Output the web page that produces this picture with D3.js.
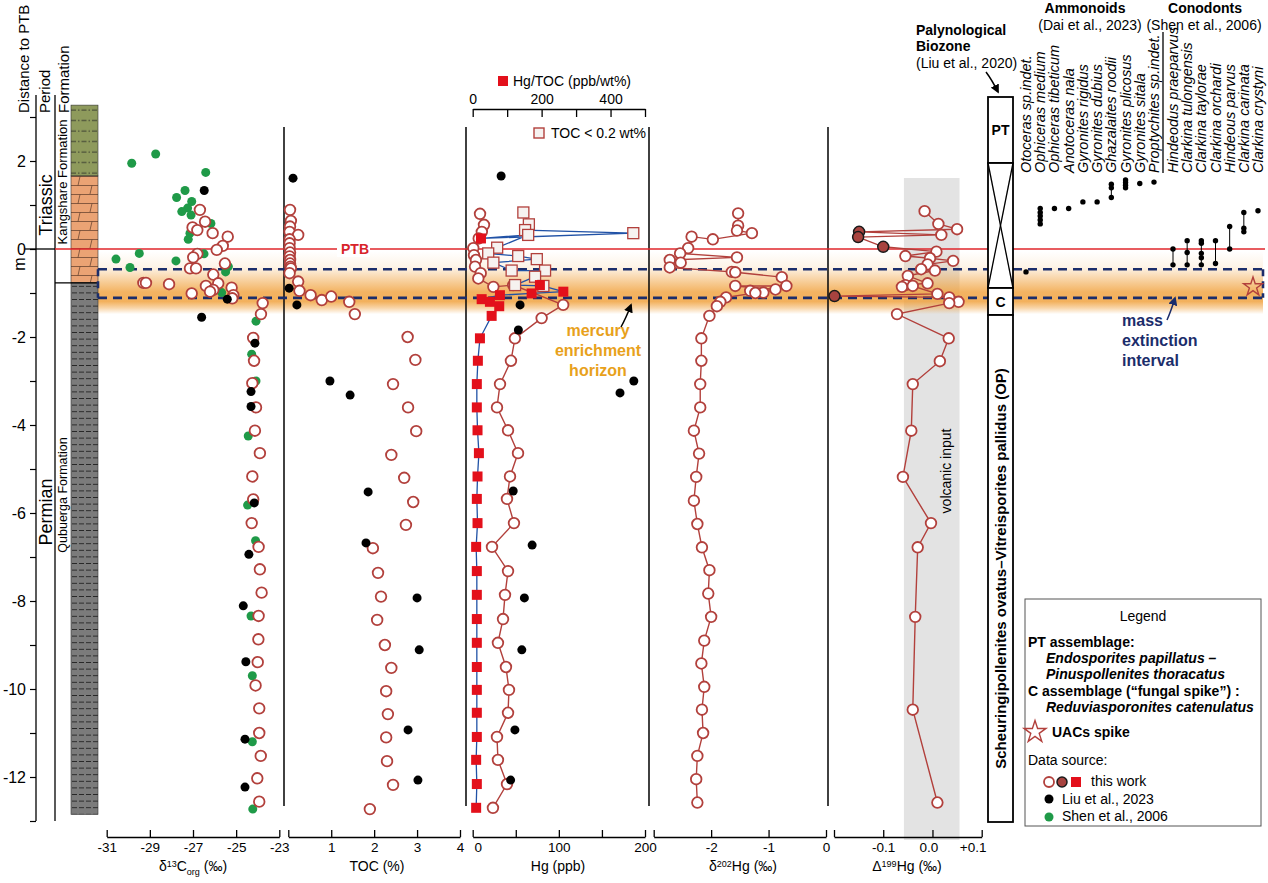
<!DOCTYPE html>
<html><head><meta charset="utf-8">
<script src="https://cdn.jsdelivr.net/npm/d3@7"></script>
<style>body{margin:0;background:#fff} svg{font-family:"Liberation Sans",Arial,Helvetica,sans-serif}</style>
</head><body><svg id="c" width="1268" height="883"></svg>
<script>
// ---------------- DATA (depth in m relative to PTB, value) ----------------
const depthTicks = [3,2,1,0,-1,-2,-3,-4,-5,-6,-7,-8,-9,-10,-11,-12,-13];
const depthLabels = [2,0,-2,-4,-6,-8,-10,-12];

const d13cTicks = [-31,-29,-27,-25,-23];
const tocTicks = [0,1,2,3,4];
const hgTicks = [0,50,100,150,200];
const hgTocTicks = [0,100,200,300,400,500];
const d202Ticks = [-3,-2,-1,0];
const D199Ticks = [-0.2,-0.1,0,0.1];

// d13C org
const d13cThis = [[0.89,-26.68],[0.62,-26.44],[0.49,-27.02],[0.43,-26.8],[0.36,-26.09],[0.28,-25.39],[0.07,-25.62],[-0.02,-25.9],[-0.11,-26.8],[-0.19,-26.99],[-0.33,-25.52],[-0.44,-27.14],[-0.44,-26.86],[-0.58,-26.06],[-0.77,-29.3],[-0.77,-29.18],[-0.8,-28.11],[-0.78,-25.83],[-0.84,-26.4],[-0.88,-25.21],[-0.93,-26.06],[-0.97,-26.21],[-1.01,-27.06],[-1.05,-25.13],[-1.12,-25.18],[-1.23,-23.77],[-1.48,-23.85],[-2.02,-24.21],[-2.54,-24.17],[-3.05,-24.25],[-3.6,-24.08],[-4.13,-24.13],[-4.64,-23.9],[-5.17,-24.25],[-5.69,-24.21],[-6.23,-24.28],[-6.77,-23.96],[-7.28,-23.9],[-7.81,-23.82],[-8.34,-23.96],[-8.87,-23.97],[-9.39,-24.0],[-9.92,-24.1],[-10.44,-23.93],[-11.0,-23.93],[-11.52,-23.86],[-12.03,-24.02],[-12.56,-23.93]];
const d13cLiu = [[1.33,-26.48],[-1.14,-25.41],[-1.55,-26.6],[-2.14,-24.13],[-3.24,-24.31],[-3.58,-24.31],[-5.77,-24.16],[-6.94,-24.41],[-8.11,-24.67],[-9.38,-24.55],[-11.14,-24.59],[-12.23,-24.59]];
const d13cShen = [[1.95,-29.84],[2.16,-28.73],[1.74,-26.41],[1.33,-27.37],[1.17,-27.76],[1.08,-27.06],[0.93,-27.25],[0.85,-27.52],[0.77,-27.09],[0.58,-26.17],[0.36,-27.14],[0.22,-27.22],[-0.1,-29.49],[-0.23,-30.57],[-0.42,-29.92],[-0.27,-27.79],[-0.11,-26.49],[-0.4,-25.36],[-0.52,-25.49],[-0.99,-25.67],[-1.64,-24.08],[-2.39,-24.28],[-3.0,-24.08],[-4.25,-24.44],[-5.82,-24.47],[-6.63,-24.1],[-8.34,-24.31],[-9.7,-24.25],[-11.2,-24.25],[-12.73,-24.23]];

// TOC (%)
const tocThis = [[0.89,0.04],[0.64,0.06],[0.51,0.04],[0.39,0.03],[0.32,0.23],[0.22,0.03],[0.13,0.03],[0.02,0.03],[-0.08,0.04],[-0.17,0.03],[-0.25,0.04],[-0.33,0.04],[-0.4,0.05],[-0.44,0.06],[-0.55,0.03],[-0.74,0.23],[-0.95,0.26],[-1.05,0.52],[-1.16,0.78],[-1.08,1.0],[-1.2,1.42],[-1.48,1.55],[-2.0,2.78],[-2.52,2.96],[-3.07,2.44],[-3.6,2.79],[-4.14,2.98],[-4.68,2.4],[-5.2,2.7],[-5.75,2.91],[-6.27,2.74],[-6.8,1.97],[-7.36,2.09],[-7.9,2.16],[-8.43,2.07],[-9.0,2.25],[-9.52,2.4],[-10.05,2.28],[-10.57,2.32],[-11.1,2.28],[-11.64,2.3],[-12.18,2.44],[-12.73,1.9]];
const tocLiu = [[1.61,0.11],[-0.89,0.02],[-1.27,0.2],[-3.0,0.97],[-3.32,1.44],[-5.52,1.86],[-6.68,1.81],[-7.93,3.0],[-9.11,3.05],[-10.93,2.79],[-12.07,3.02]];

// Hg (ppb)
const hgThis = [[0.8,8.5],[0.55,13.1],[0.39,10.6],[0.24,7],[0.02,0.7],[-0.14,1.5],[-0.25,3.8],[-0.4,2.7],[-0.55,9.3],[-0.67,6.5],[-0.86,24],[-0.82,47],[-1.27,105],[-1.57,80],[-2.03,49],[-2.54,44.4],[-3.07,31.7],[-3.6,28.2],[-4.12,41],[-4.64,52.6],[-5.17,43.3],[-5.68,39.8],[-6.23,47.9],[-6.77,22.4],[-7.32,41],[-7.86,37.5],[-8.41,35.2],[-8.95,29.3],[-9.5,38.6],[-10.02,42.1],[-10.54,41],[-11.09,28.2],[-11.61,29.3],[-12.16,39.8],[-12.7,23.5]];
const hgLiu = [[1.66,33],[-1.27,55],[-1.84,53],[-3.0,187],[-3.27,171],[-5.5,47],[-6.73,69],[-7.93,60],[-9.11,57],[-10.93,49],[-12.07,44]];

// Hg/TOC (ppb/wt%): [depth, value, lowTOC flag]
const hgTocThis = [[0.83,147,1],[0.56,163,1],[0.43,152,1],[0.36,466,1],[0.24,24,0],[0.32,161,1],[0.03,71,1],[-0.1,45,1],[-0.16,132,1],[-0.23,186,1],[-0.31,60,1],[-0.49,113,1],[-0.49,210,1],[-0.63,181,1],[-0.82,123,1],[-0.84,205,1],[-0.82,195,0],[-0.97,263,0],[-1.01,171,0],[-1.05,79,0],[-1.14,26,0],[-1.2,50,0],[-1.3,77,0],[-1.52,55,0],[-2.03,21,0],[-2.54,15,0],[-3.07,12,0],[-3.6,12,0],[-4.12,14,0],[-4.64,18,0],[-5.17,14,0],[-5.68,12,0],[-6.23,14,0],[-6.77,10,0],[-7.32,12,0],[-7.86,12,0],[-8.41,12,0],[-8.95,12,0],[-9.5,12,0],[-10.02,12,0],[-10.54,12,0],[-11.09,12,0],[-11.61,10,0],[-12.16,12,0],[-12.7,10,0]];

// d202Hg (permil)
const d202This = [[0.81,-1.53],[0.53,-1.53],[0.42,-1.55],[0.36,-1.29],[0.22,-1.97],[0.28,-2.34],[0.02,-2.4],[-0.1,-2.54],[-0.19,-1.55],[-0.25,-2.72],[-0.31,-2.53],[-0.42,-2.72],[-0.52,-1.64],[-0.53,-1.58],[-0.64,-0.77],[-0.84,-0.69],[-0.84,-1.58],[-0.92,-0.88],[-0.99,-1.09],[-0.95,-1.32],[-1.0,-1.23],[-1.1,-1.74],[-1.2,-1.84],[-1.3,-1.9],[-1.52,-2.03],[-2.03,-2.17],[-2.54,-2.17],[-3.07,-2.19],[-3.6,-2.19],[-4.13,-2.3],[-4.65,-2.21],[-5.18,-2.26],[-5.72,-2.3],[-6.25,-2.24],[-6.78,-2.16],[-7.3,-2.03],[-7.83,-2.05],[-8.36,-2.0],[-8.9,-2.12],[-9.42,-2.17],[-9.95,-2.12],[-10.47,-2.16],[-11.0,-2.14],[-11.52,-2.24],[-12.05,-2.26],[-12.58,-2.24]];

// D199Hg (permil): [depth, value, filled flag]
const D199This = [[0.86,-0.016,0],[0.57,0.012,0],[0.45,0.05,0],[0.39,-0.149,1],[0.32,0.018,0],[0.27,-0.151,1],[0.05,-0.1,1],[-0.06,0.008,0],[-0.16,-0.055,0],[-0.21,-0.005,0],[-0.27,0.042,0],[-0.35,-0.01,0],[-0.46,-0.023,0],[-0.49,0.005,0],[-0.61,-0.05,0],[-0.78,-0.01,0],[-0.82,-0.055,0],[-0.86,-0.062,0],[-0.84,-0.04,0],[-1.02,0.01,0],[-1.07,-0.199,1],[-1.1,0.034,0],[-1.2,0.053,0],[-1.23,0.034,0],[-1.48,-0.072,0],[-2.03,0.033,0],[-2.55,0.015,0],[-3.07,-0.04,0],[-4.13,-0.043,0],[-5.18,-0.06,0],[-6.23,-0.003,0],[-6.78,-0.03,0],[-8.36,-0.035,0],[-10.47,-0.04,0],[-12.58,0.01,0]];

// Fossil ranges: [name, depths]
const ammonoids = [["Otoceras sp.indet.",[-0.52]],["Ophiceras medium",[0.92,0.83,0.75,0.66,0.57]],["Ophiceras tibeticum",[0.92]],["Anotoceras nala",[0.92]],["Gyronites rigidus",[1.07]],["Gyronites dubius",[1.07]],["Ghazalaites roodii",[1.47,1.39,1.17]],["Gyronites plicosus",[1.57,1.51,1.45,1.39]],["Gyronites sitala",[1.49]],["Proptychites sp.indet.",[1.52]]];
const conodonts = [["Hindeodus praeparvus",[0.0,-0.36]],["Clarkina tulongensis",[0.19,-0.08,-0.36]],["Clarkina taylorae",[0.19,0.13,-0.1,-0.2,-0.36]],["Clarkina orchardi",[0.19,-0.33]],["Hindeous parvus",[0.51,0.0]],["Clarkina carinata",[0.83,0.47,0.39]],["Clarkina crystyni",[0.87]]];
const uacSpike = [-0.86];

// intervals
const ptbDepth = 0;
const extinctionTop = -0.46, extinctionBase = -1.11;
const lithology = [["olive",3.27,1.66],["orange",1.66,-0.77],["grey",-0.77,-12.85]];

// ---------------- DRAWING ----------------
const svg = d3.select('#c');
const defs = svg.append('defs');
const BROWN = '#b2403c', RED = '#e3101b', BLUE = '#2152a6', GREEN = '#1f9a48', NAVY = '#1b2d6b', GOLD = '#e8a11b';

const y = d3.scaleLinear().domain([0,-12]).range([249,777]);
const xD13 = d3.scaleLinear().domain([-31,-23]).range([106.7,279.3]);
const xTOC = d3.scaleLinear().domain([0,4]).range([288.3,460]);
const xHg = d3.scaleLinear().domain([0,200]).range([472.7,645]);
const xHgTOC = d3.scaleLinear().domain([0,500]).range([472.7,645]);
const xD202 = d3.scaleLinear().domain([-3,0]).range([653.7,826]);
const xD199 = d3.scaleLinear().domain([-0.2,0.1]).range([834,981.7]);

// patterns
const pOl = defs.append('pattern').attr('id','pOl').attr('patternUnits','userSpaceOnUse').attr('width',27).attr('height',10.5).attr('x',71).attr('y',105);
pOl.append('rect').attr('width',27).attr('height',10.5).attr('fill','#8e9a5c');
pOl.append('line').attr('x1',0).attr('x2',27).attr('y1',5).attr('y2',5).attr('stroke','#222').attr('stroke-width',0.8).attr('stroke-dasharray','5,2,1.5,2');
const pOr = defs.append('pattern').attr('id','pOr').attr('patternUnits','userSpaceOnUse').attr('width',27).attr('height',18).attr('x',71).attr('y',176);
pOr.append('rect').attr('width',27).attr('height',18).attr('fill','#eba374');
pOr.append('line').attr('x1',0).attr('x2',27).attr('y1',0.5).attr('y2',0.5).attr('stroke','#5a3a28').attr('stroke-width',0.7);
pOr.append('line').attr('x1',0).attr('x2',27).attr('y1',9.5).attr('y2',9.5).attr('stroke','#5a3a28').attr('stroke-width',0.7);
pOr.append('line').attr('x1',9).attr('x2',7).attr('y1',0.5).attr('y2',9.5).attr('stroke','#5a3a28').attr('stroke-width',0.7);
pOr.append('line').attr('x1',21).attr('x2',19).attr('y1',9.5).attr('y2',18).attr('stroke','#5a3a28').attr('stroke-width',0.7);
const pGr = defs.append('pattern').attr('id','pGr').attr('patternUnits','userSpaceOnUse').attr('width',27).attr('height',6.6).attr('x',71).attr('y',283);
pGr.append('rect').attr('width',27).attr('height',6.6).attr('fill','#7b7b7b');
pGr.append('line').attr('x1',1).attr('x2',27).attr('y1',3.3).attr('y2',3.3).attr('stroke','#222').attr('stroke-width',0.9).attr('stroke-dasharray','5,2');

// volcanic input grey band
svg.append('rect').attr('x',xD199(-0.058)).attr('y',178).attr('width',xD199(0.055)-xD199(-0.058)).attr('height',662).attr('fill','#e3e3e3');
svg.append('text').attr('transform',`translate(${951},${471}) rotate(-90)`).attr('text-anchor','middle').attr('font-size',14).text('volcanic input');

// orange band
const grad = defs.append('linearGradient').attr('id','band').attr('gradientUnits','userSpaceOnUse').attr('x1',0).attr('x2',0).attr('y1',y(-0.05)).attr('y2',y(-1.48));
[[0,0],[0.25,0.12],[0.5,0.55],[0.65,0.8],[0.8,0.82],[0.9,0.45],[1,0]].forEach(([o,a])=>grad.append('stop').attr('offset',o).attr('stop-color','#f0a03a').attr('stop-opacity',a));
svg.append('rect').attr('x',98).attr('y',y(-0.05)).attr('width',1165).attr('height',y(-1.48)-y(-0.05)).attr('fill','url(#band)');

// lithology column
const litFill = {olive:'url(#pOl)',orange:'url(#pOr)',grey:'url(#pGr)'};
svg.selectAll('rect.lit').data(lithology).join('rect').attr('class','lit')
  .attr('x',71).attr('width',27).attr('y',d=>y(d[1])).attr('height',d=>y(d[2])-y(d[1]))
  .attr('fill',d=>litFill[d[0]]).attr('stroke','#333').attr('stroke-width',0.6);

// left axis
const yAxis = d3.axisLeft(y).tickValues(depthTicks).tickSize(6).tickPadding(4)
  .tickFormat(d=>depthLabels.includes(d)?String(d):'');
const ga = svg.append('g').attr('transform','translate(36,0)').call(yAxis);
ga.select('.domain').remove();
ga.selectAll('text').attr('font-size',16).attr('font-family','"Liberation Sans",Arial,sans-serif');
ga.selectAll('line').attr('stroke-width',1.2);
svg.append('line').attr('x1',36).attr('x2',36).attr('y1',95).attr('y2',821).attr('stroke','#000').attr('stroke-width',1.3);
svg.append('line').attr('x1',55).attr('x2',55).attr('y1',95).attr('y2',821).attr('stroke','#000').attr('stroke-width',1.3);
svg.append('line').attr('x1',25).attr('x2',55).attr('y1',y(0)).attr('y2',y(0)).attr('stroke','#000').attr('stroke-width',1.3);
svg.append('line').attr('x1',55).attr('x2',98).attr('y1',y(-0.77)).attr('y2',y(-0.77)).attr('stroke','#000').attr('stroke-width',1.3);
svg.append('text').attr('transform','translate(25,264) rotate(-90)').attr('text-anchor','middle').attr('font-size',16).text('m');

function vtext(x,yy,txt,size,anchor,extra){
  const t = svg.append('text').attr('transform',`translate(${x},${yy}) rotate(-90)`).attr('text-anchor',anchor||'start').attr('font-size',size).text(txt);
  if(extra) extra(t);
  return t;
}
vtext(29,113,'Distance to PTB',15,'start');
vtext(50,113,'Period',15,'start');
vtext(69,113,'Formation',15,'start');
vtext(52,205,'Triassic',18,'middle');
vtext(67,182,'Kangshare Formation',13,'middle');
vtext(52,512,'Permian',18,'middle');
vtext(67,495,'Qubuerga Formation',12.5,'middle');

// panel separator lines
[284,466,649,828].forEach(x=>svg.append('line').attr('x1',x).attr('x2',x).attr('y1',127).attr('y2',806).attr('stroke','#111').attr('stroke-width',1.6));

// extinction interval dashed box
const dash = {stroke:NAVY,'stroke-width':2.6,'stroke-dasharray':'9,6',fill:'none'};
function applyAttrs(sel,o){Object.entries(o).forEach(([k,v])=>sel.attr(k,v));return sel;}
applyAttrs(svg.append('line').attr('x1',98).attr('x2',1263).attr('y1',y(extinctionTop)).attr('y2',y(extinctionTop)),dash);
applyAttrs(svg.append('line').attr('x1',98).attr('x2',1263).attr('y1',y(extinctionBase)).attr('y2',y(extinctionBase)),dash);
applyAttrs(svg.append('line').attr('x1',98).attr('x2',98).attr('y1',y(extinctionTop)).attr('y2',y(extinctionBase)),{...dash,'stroke-dasharray':'7,5'});
applyAttrs(svg.append('line').attr('x1',1263).attr('x2',1263).attr('y1',y(extinctionTop)).attr('y2',y(extinctionBase)),{...dash,'stroke-dasharray':'7,5'});

// PTB line
svg.append('line').attr('x1',55).attr('x2',1265).attr('y1',y(ptbDepth)).attr('y2',y(ptbDepth)).attr('stroke','#e0262b').attr('stroke-width',1.6);
svg.append('rect').attr('x',337).attr('y',y(0)-8).attr('width',33).attr('height',16).attr('fill','#fff');
svg.append('text').attr('x',355).attr('y',y(0)+5).attr('text-anchor','middle').attr('font-size',14).attr('font-weight','bold').attr('fill','#d8232a').text('PTB');

// bottom axes
function bottomAxis(scale,ticks,fmt){
  const ax = d3.axisBottom(scale).tickValues(ticks).tickSizeInner(-7).tickSizeOuter(0).tickPadding(5).tickFormat(fmt);
  const gg = svg.append('g').attr('transform','translate(0,837)').call(ax);
  gg.selectAll('text').attr('font-size',13.5).attr('font-family','"Liberation Sans",Arial,sans-serif').attr('fill','#000');
  gg.selectAll('line').attr('stroke-width',1.3);
  gg.select('.domain').attr('stroke-width',1.3);
  return gg;
}
bottomAxis(xD13,d13cTicks,d=>String(d));
bottomAxis(xTOC,tocTicks,d=>d===0?'':String(d));
const gHg = bottomAxis(xHg,hgTicks,d=>(d%100===0)?String(d):'');
gHg.selectAll('text').filter(d=>d===0).attr('dx',5);
bottomAxis(xD202,d202Ticks,d=>d===-3?'':String(d));
const gD199 = bottomAxis(xD199,D199Ticks,d=>d===-0.2?'':(d>0?'+':'')+d.toFixed(1));
gD199.selectAll('text').filter(d=>d===0.1).attr('dx',-9);
gD199.selectAll('text').filter(d=>d===0).attr('dx',-4);

// axis titles (with sub/superscripts)
function title(x,parts){
  const t = svg.append('text').attr('x',x).attr('y',871).attr('text-anchor','middle').attr('font-size',14);
  parts.forEach(p=>{
    const s = t.append('tspan').text(p[0]);
    if(p[1]==='sup') s.attr('font-size',9).attr('dy',-4);
    if(p[1]==='sub') s.attr('font-size',9).attr('dy',4);
    if(p[1]==='back') s.attr('dy',p[2]);
  });
}
title(193,[['δ'],['13','sup'],['C','back',4],['org','sub'],[' (‰)','back',-4]]);
title(377,[['TOC (%)']]);
title(558,[['Hg (ppb)']]);
title(743,[['δ'],['202','sup'],['Hg (‰)','back',4]]);
title(907,[['Δ'],['199','sup'],['Hg (‰)','back',4]]);

// top Hg/TOC axis
const topAx = d3.axisTop(xHgTOC).tickValues(hgTocTicks).tickSizeInner(-8).tickSizeOuter(0).tickPadding(5).tickFormat(d=>d%200===0?String(d):'');
const gt = svg.append('g').attr('transform','translate(0,109)').call(topAx);
gt.selectAll('text').attr('font-size',14).attr('font-family','"Liberation Sans",Arial,sans-serif');
gt.selectAll('line').attr('stroke-width',1.3); gt.select('.domain').attr('stroke-width',1.3);
svg.append('rect').attr('x',498).attr('y',76).attr('width',10).attr('height',10).attr('fill',RED);
svg.append('text').attr('x',513).attr('y',86).attr('font-size',14).text('Hg/TOC (ppb/wt%)');
svg.append('rect').attr('x',534).attr('y',128).attr('width',10).attr('height',10).attr('fill','#f6f2f0').attr('stroke',BROWN).attr('stroke-width',1.4);
svg.append('text').attr('x',551).attr('y',138).attr('font-size',14).text('TOC < 0.2 wt%');

// --- marks ---
function openCircles(data,xs){
  svg.append('g').selectAll('circle').data(data).join('circle')
    .attr('cx',d=>xs(d[1])).attr('cy',d=>y(d[0])).attr('r',5.3)
    .attr('fill','#fff').attr('stroke',BROWN).attr('stroke-width',1.8);
}
function dots(data,xs,color){
  svg.append('g').selectAll('circle').data(data).join('circle')
    .attr('cx',d=>xs(d[1])).attr('cy',d=>y(d[0])).attr('r',4.5).attr('fill',color);
}
const lineGen = xs => d3.line().x(d=>xs(d[1])).y(d=>y(d[0]));

// d13C
dots(d13cShen,xD13,GREEN);
openCircles(d13cThis,xD13);
dots(d13cLiu,xD13,'#000');
// TOC
openCircles(tocThis,xTOC);
dots(tocLiu,xTOC,'#000');
// Hg/TOC
svg.append('path').datum(hgTocThis).attr('d',lineGen(xHgTOC)).attr('fill','none').attr('stroke',BLUE).attr('stroke-width',1.3);
// Hg
svg.append('path').datum(hgThis).attr('d',lineGen(xHg)).attr('fill','none').attr('stroke',BROWN).attr('stroke-width',1.4);
openCircles(hgThis,xHg);
svg.append('g').selectAll('rect').data(hgTocThis.filter(d=>d[2]===1)).join('rect')
  .attr('x',d=>xHgTOC(d[1])-5.5).attr('y',d=>y(d[0])-5.5).attr('width',11).attr('height',11)
  .attr('fill','#f6f2f0').attr('stroke',BROWN).attr('stroke-width',1.3);
svg.append('g').selectAll('rect').data(hgTocThis.filter(d=>d[2]===0)).join('rect')
  .attr('x',d=>xHgTOC(d[1])-5).attr('y',d=>y(d[0])-5).attr('width',10).attr('height',10).attr('fill',RED);
dots(hgLiu,xHg,'#000');
// d202
svg.append('path').datum(d202This).attr('d',lineGen(xD202)).attr('fill','none').attr('stroke',BROWN).attr('stroke-width',1.4);
openCircles(d202This,xD202);
// D199
svg.append('path').datum(D199This).attr('d',lineGen(xD199)).attr('fill','none').attr('stroke',BROWN).attr('stroke-width',1.4);
openCircles(D199This.filter(d=>d[2]===0),xD199);
svg.append('g').selectAll('circle').data(D199This.filter(d=>d[2]===1)).join('circle')
  .attr('cx',d=>xD199(d[1])).attr('cy',d=>y(d[0])).attr('r',5.5).attr('fill','#a8433f').attr('stroke','#1a1a1a').attr('stroke-width',1.5);

// annotations
svg.append('text').attr('font-size',16).attr('font-weight','bold').attr('fill',GOLD).attr('text-anchor','middle')
  .selectAll('tspan').data(['mercury','enrichment','horizon']).join('tspan').attr('x',598).attr('y',(d,i)=>336+i*20).text(d=>d);
defs.append('marker').attr('id','ah').attr('viewBox','0 0 10 10').attr('refX',8).attr('refY',5).attr('markerWidth',6).attr('markerHeight',6).attr('orient','auto-start-reverse')
  .append('path').attr('d','M0,0 L10,5 L0,10 z').attr('fill','#000');
defs.append('marker').attr('id','ahb').attr('viewBox','0 0 10 10').attr('refX',8).attr('refY',5).attr('markerWidth',6).attr('markerHeight',6).attr('orient','auto-start-reverse')
  .append('path').attr('d','M0,0 L10,5 L0,10 z').attr('fill',NAVY);
svg.append('path').attr('d','M621,327 Q626,318 631,305').attr('fill','none').attr('stroke','#000').attr('stroke-width',1.5).attr('marker-end','url(#ah)');
svg.append('text').attr('font-size',16).attr('font-weight','bold').attr('fill',NAVY)
  .selectAll('tspan').data(['mass','extinction','interval']).join('tspan').attr('x',1122).attr('y',(d,i)=>326+i*20).text(d=>d);
svg.append('path').attr('d','M1167,320 Q1171,311 1175,298').attr('fill','none').attr('stroke',NAVY).attr('stroke-width',1.5).attr('marker-end','url(#ahb)');

// Palynological biozone column
svg.append('text').attr('x',916).attr('y',35).attr('font-size',14).attr('font-weight','bold').text('Palynological');
svg.append('text').attr('x',916).attr('y',51).attr('font-size',14).attr('font-weight','bold').text('Biozone');
svg.append('text').attr('x',916).attr('y',68).attr('font-size',14).text('(Liu et al., 2020)');
svg.append('path').attr('d','M986,72 Q992,80 998,92').attr('fill','none').attr('stroke','#000').attr('stroke-width',1.5).attr('marker-end','url(#ah)');
const bx0=988,bw=25;
const zones = [['PT',97,163],['X',163,288],['C',288,315],['OP',315,822]];
zones.forEach(([n,a,b])=>{
  svg.append('rect').attr('x',bx0).attr('y',a).attr('width',bw).attr('height',b-a).attr('fill','#fff').attr('stroke','#000').attr('stroke-width',1.8);
  if(n==='X'){
    svg.append('line').attr('x1',bx0).attr('y1',a).attr('x2',bx0+bw).attr('y2',b).attr('stroke','#000').attr('stroke-width',1.3);
    svg.append('line').attr('x1',bx0+bw).attr('y1',a).attr('x2',bx0).attr('y2',b).attr('stroke','#000').attr('stroke-width',1.3);
  } else if(n==='OP'){
    vtext(bx0+bw/2+5.5,(a+b)/2,'Scheuringipollenites ovatus–Vitreisporites pallidus (OP)',15,'middle',t=>t.attr('font-weight','bold'));
  } else {
    svg.append('text').attr('x',bx0+bw/2).attr('y',(a+b)/2+5).attr('text-anchor','middle').attr('font-size',14).attr('font-weight','bold').text(n);
  }
});

// fossil headers
svg.append('text').attr('x',1085).attr('y',13).attr('text-anchor','middle').attr('font-size',14).attr('font-weight','bold').text('Ammonoids');
svg.append('text').attr('x',1090).attr('y',30).attr('text-anchor','middle').attr('font-size',14).text('(Dai et al., 2023)');
svg.append('text').attr('x',1205).attr('y',13).attr('text-anchor','middle').attr('font-size',14).attr('font-weight','bold').text('Conodonts');
svg.append('text').attr('x',1204).attr('y',30).attr('text-anchor','middle').attr('font-size',14).text('(Shen et al., 2006)');
svg.append('line').attr('x1',1163).attr('x2',1163).attr('y1',32).attr('y2',173).attr('stroke','#000').attr('stroke-width',1.3);

const fossX = d3.scalePoint().domain(ammonoids.map(d=>d[0])).range([1026,1154]);
const conX = d3.scalePoint().domain(conodonts.map(d=>d[0])).range([1173,1258]);
function fossils(list,xs){
  list.forEach(([name,ds])=>{
    const x = xs(name);
    svg.append('text').attr('transform',`translate(${x+5},173) rotate(-90)`).attr('font-size',14.5).attr('font-style','italic').text(name);
    if(ds.length>1) svg.append('line').attr('x1',x).attr('x2',x).attr('y1',y(d3.max(ds))).attr('y2',y(d3.min(ds))).attr('stroke','#000').attr('stroke-width',1);
    svg.append('g').selectAll('circle').data(ds).join('circle').attr('cx',x).attr('cy',d=>y(d)).attr('r',2.7).attr('fill','#000');
  });
}
fossils(ammonoids,fossX);
fossils(conodonts,conX);

// UAC star
const star = d3.symbol().type(d3.symbolStar).size(110);
svg.selectAll('path.uac').data(uacSpike).join('path').attr('class','uac').attr('d',star)
  .attr('transform',d=>`translate(1253,${y(d)})`).attr('fill','none').attr('stroke',BROWN).attr('stroke-width',1.4);

// Legend
const L = svg.append('g');
L.append('rect').attr('x',1025).attr('y',599).attr('width',236).attr('height',227).attr('fill','#fff').attr('stroke','#555').attr('stroke-width',1);
L.append('text').attr('x',1143).attr('y',621).attr('text-anchor','middle').attr('font-size',14).text('Legend');
const legLines = [['PT assemblage:',1028,647,'bold',''],['Endosporites papillatus –',1046,663,'bold','italic'],['Pinuspollenites thoracatus',1046,679,'bold','italic'],['C assemblage (“fungal spike”) :',1028,696,'bold',''],['Reduviasporonites catenulatus',1046,712,'bold','italic'],['UACs spike',1052,737,'bold',''],['Data source:',1028,765,'normal',''],['this work',1091,786,'normal',''],['Liu et al., 2023',1062,804,'normal',''],['Shen et al., 2006',1062,821,'normal','']];
L.selectAll('text.l').data(legLines).join('text').attr('class','l').attr('x',d=>d[1]).attr('y',d=>d[2]).attr('font-size',14).attr('font-weight',d=>d[3]).attr('font-style',d=>d[4]||'normal').text(d=>d[0]);
L.append('path').attr('d',d3.symbol().type(d3.symbolStar).size(150)).attr('transform','translate(1035,732)').attr('fill','none').attr('stroke',BROWN).attr('stroke-width',1.4);
L.append('circle').attr('cx',1049).attr('cy',782).attr('r',5).attr('fill','#fff').attr('stroke',BROWN).attr('stroke-width',1.8);
L.append('circle').attr('cx',1062).attr('cy',782).attr('r',5).attr('fill','#a8433f').attr('stroke','#1a1a1a').attr('stroke-width',1.5);
L.append('rect').attr('x',1071).attr('y',777).attr('width',10).attr('height',10).attr('fill',RED);
L.append('circle').attr('cx',1049).attr('cy',799).attr('r',4.5).attr('fill','#000');
L.append('circle').attr('cx',1049).attr('cy',817).attr('r',4.5).attr('fill',GREEN);
</script></body></html>
